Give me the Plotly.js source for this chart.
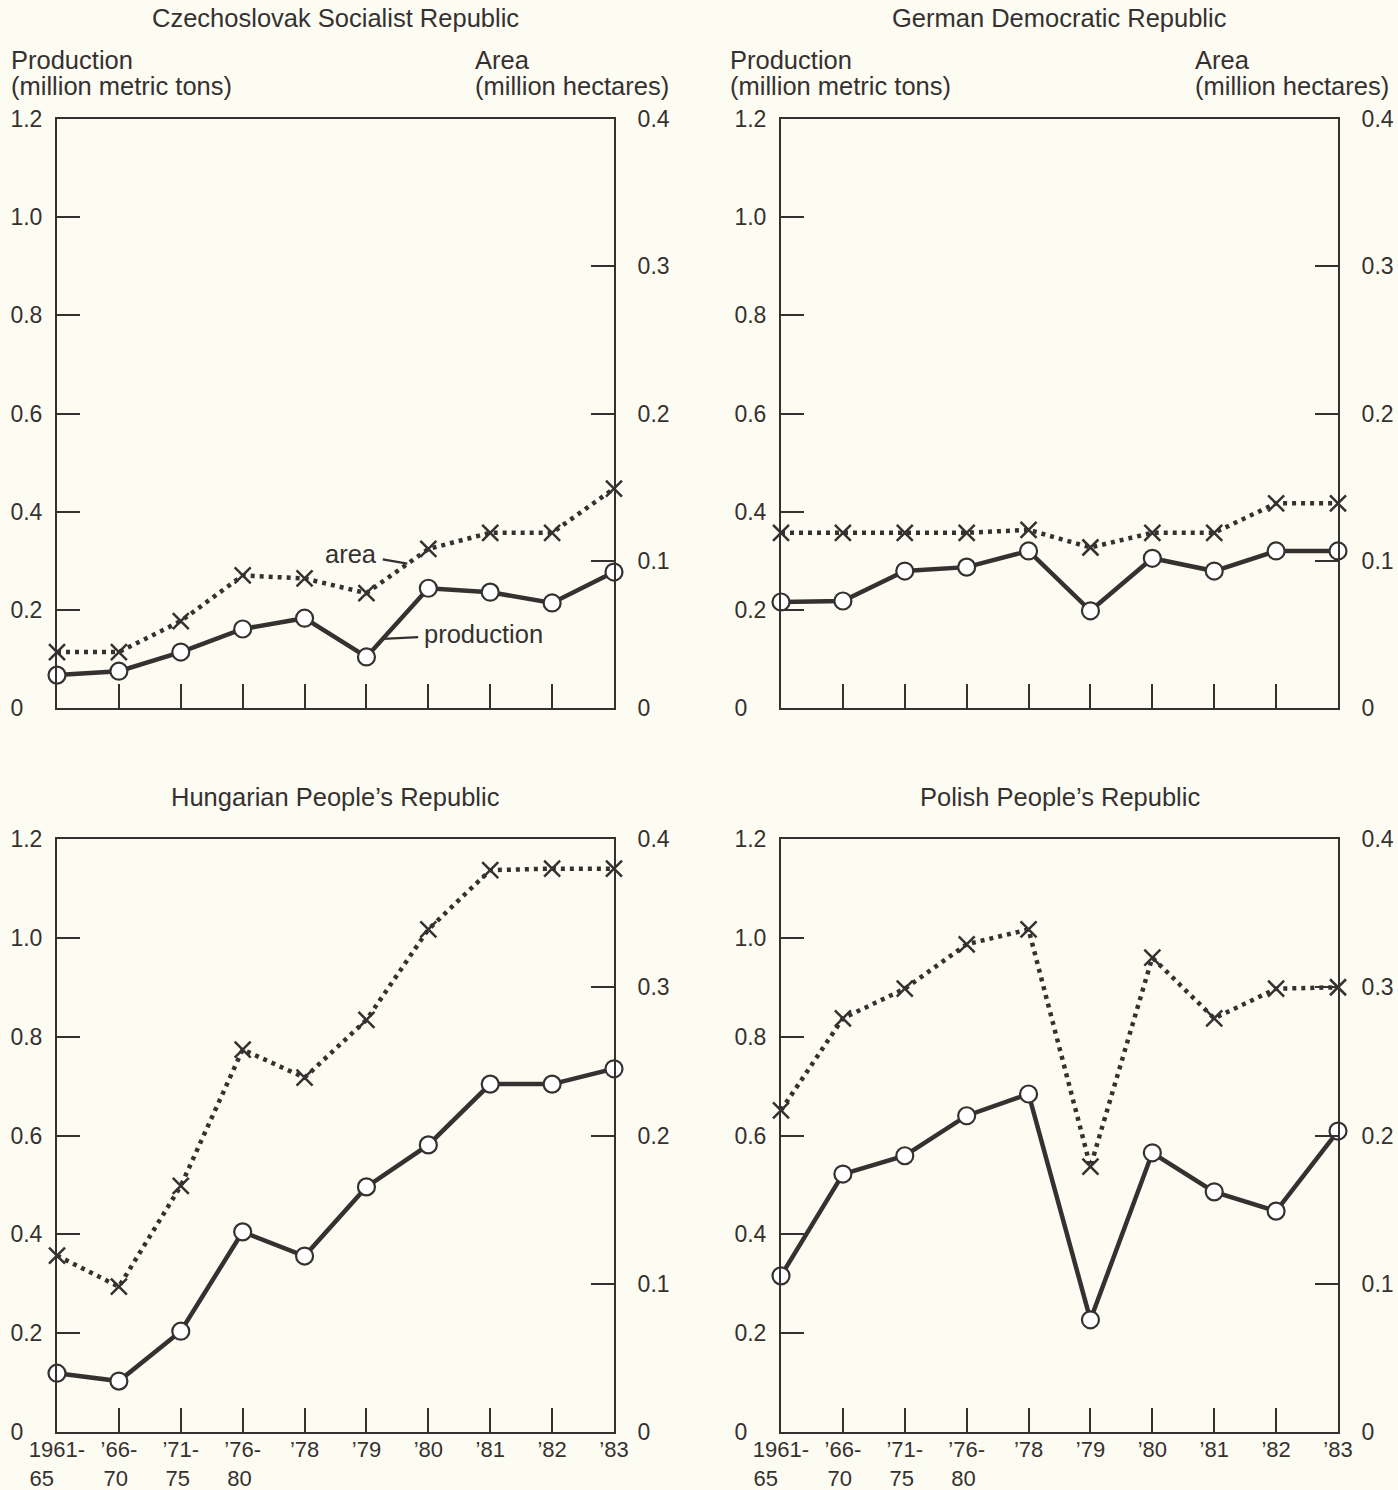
<!DOCTYPE html>
<html>
<head>
<meta charset="utf-8">
<script src="https://cdn.plot.ly/plotly-3.0.1.min.js"></script>
<style>
  html, body { margin: 0; padding: 0; background: #fcfcf2; }
  #chart { width: 1398px; height: 1490px; }
</style>
</head>
<body>
<div id="chart"></div>
<script>
// ---------------- data ----------------
const categories = ["1961-65", "1966-70", "1971-75", "1976-80", "1978", "1979", "1980", "1981", "1982", "1983"];
const NB = "\u00A0";
const xTickLabels = [
  "1961-<br>65" + NB.repeat(5),
  "\u201966-<br>70" + NB,
  "\u201971-<br>75" + NB,
  "\u201976-<br>80" + NB,
  "\u201978", "\u201979", "\u201980", "\u201981", "\u201982", "\u201983"
];
const productionTicks = [0, 0.2, 0.4, 0.6, 0.8, 1.0, 1.2];
const productionTickLabels = ["0" + NB.repeat(3), "0.2", "0.4", "0.6", "0.8", "1.0", "1.2"];
const areaTicks = [0, 0.1, 0.2, 0.3, 0.4];
const areaTickLabels = ["0", "0.1", "0.2", "0.3", "0.4"];

const panelTitles = ["Czechoslovak Socialist Republic", "German Democratic Republic",
                     "Hungarian People\u2019s Republic", "Polish People\u2019s Republic"];

// production, million metric tons (left axis)
const czProduction  = [0.067, 0.075, 0.114, 0.161, 0.183, 0.104, 0.244, 0.236, 0.214, 0.277];
const gdrProduction = [0.216, 0.218, 0.279, 0.287, 0.320, 0.198, 0.305, 0.279, 0.320, 0.320];
const huProduction  = [0.119, 0.103, 0.204, 0.405, 0.356, 0.496, 0.581, 0.704, 0.704, 0.735];
const plProduction  = [0.316, 0.522, 0.559, 0.640, 0.684, 0.227, 0.565, 0.486, 0.447, 0.609];
// area, million hectares (right axis)
const czArea  = [0.038, 0.038, 0.059, 0.090, 0.088, 0.078, 0.108, 0.119, 0.119, 0.149];
const gdrArea = [0.119, 0.119, 0.119, 0.119, 0.121, 0.109, 0.119, 0.119, 0.139, 0.139];
const huArea  = [0.119, 0.098, 0.166, 0.258, 0.239, 0.278, 0.339, 0.379, 0.380, 0.380];
const plArea  = [0.217, 0.279, 0.299, 0.329, 0.339, 0.179, 0.320, 0.279, 0.299, 0.300];

const productionSeries = [czProduction, gdrProduction, huProduction, plProduction];
const areaSeries = [czArea, gdrArea, huArea, plArea];

// ---------------- style ----------------
const INK = "#353131";
const BG = "#fcfcf2";
const FONT = "Liberation Sans, Arial, Helvetica, sans-serif";
const TXT = 25.5;
const W = 1398, H = 1490;

// panel plot boxes in pixels [left, right, top, bottom]
const boxes = [
  [57, 614, 119, 708],
  [781, 1338, 119, 708],
  [57, 614, 839, 1432],
  [781, 1338, 839, 1432]
];

const data = [];
const layout = {
  width: W, height: H,
  margin: { l: 0, r: 0, t: 0, b: 0 },
  paper_bgcolor: BG, plot_bgcolor: BG,
  showlegend: false,
  font: { family: FONT, size: 22, color: INK },
  annotations: []
};

boxes.forEach((b, i) => {
  const xid = i === 0 ? "x" : "x" + (i + 1);
  const yL = i === 0 ? "y" : "y" + (2 * i + 1);
  const yR = "y" + (2 * i + 2);
  const xKey = i === 0 ? "xaxis" : "xaxis" + (i + 1);
  const yLKey = i === 0 ? "yaxis" : "yaxis" + (2 * i + 1);
  const yRKey = "yaxis" + (2 * i + 2);
  const xDom = [b[0] / W, b[1] / W];
  const yDom = [1 - b[3] / H, 1 - b[2] / H];
  const bottomRow = i >= 2;

  layout[xKey] = {
    domain: xDom, anchor: yL, type: "category",
    range: [0, 9], fixedrange: true,
    showgrid: false, zeroline: false,
    showline: true, mirror: true, linecolor: INK, linewidth: 2,
    ticks: "inside", ticklen: 24, tickwidth: 2, tickcolor: INK,
    tickmode: "array", tickvals: categories, ticktext: xTickLabels,
    showticklabels: bottomRow, ticklabelstandoff: -3,
    tickfont: { family: FONT, size: 22, color: INK }
  };
  layout[yLKey] = {
    domain: yDom, anchor: xid, range: [0, 1.2],
    showgrid: false, zeroline: false,
    showline: true, linecolor: INK, linewidth: 2,
    ticks: "inside", ticklen: 23, tickwidth: 2, tickcolor: INK,
    tickmode: "array", tickvals: productionTicks, ticktext: productionTickLabels,
    ticklabelstandoff: 8,
    tickfont: { family: FONT, size: 23, color: INK }
  };
  layout[yRKey] = {
    overlaying: yL, side: "right", anchor: xid, range: [0, 0.4],
    showgrid: false, zeroline: false,
    showline: true, linecolor: INK, linewidth: 2,
    ticks: "inside", ticklen: 23, tickwidth: 2, tickcolor: INK,
    tickmode: "array", tickvals: areaTicks, ticktext: areaTickLabels,
    ticklabelstandoff: 17,
    tickfont: { family: FONT, size: 23, color: INK }
  };

  data.push({
    type: "scatter", mode: "lines+markers",
    x: categories, y: productionSeries[i], xaxis: xid, yaxis: yL,
    cliponaxis: false,
    line: { color: INK, width: 4.5 },
    marker: { symbol: "circle", size: 17, color: "#ffffff", line: { color: INK, width: 2.2 } },
    name: "production"
  });
  data.push({
    type: "scatter", mode: "lines+markers",
    x: categories, y: areaSeries[i], xaxis: xid, yaxis: yR,
    cliponaxis: false,
    line: { color: INK, width: 4.5, dash: "4px,5px" },
    marker: { symbol: "x-thin-open", size: 16, color: INK, line: { color: INK, width: 2.5 } },
    name: "area"
  });

  // panel title
  const titleY = bottomRow ? 797 : 18;
  layout.annotations.push({
    xref: "paper", yref: "paper", x: (b[0] + b[1]) / 2 / W, y: 1 - titleY / H,
    xanchor: "center", yanchor: "middle", showarrow: false,
    text: panelTitles[i], font: { family: FONT, size: TXT, color: INK }
  });
  if (!bottomRow) {
    const leftX = i === 0 ? 9 : 728;
    const rightX = i === 0 ? 473 : 1193;
    [["Production", 60], ["(million metric tons)", 86]].forEach(([t, y]) => {
      layout.annotations.push({
        xref: "paper", yref: "paper", x: leftX / W, y: 1 - y / H,
        xanchor: "left", yanchor: "middle", showarrow: false,
        text: t, font: { family: FONT, size: TXT, color: INK }
      });
    });
    [["Area", 60], ["(million hectares)", 86]].forEach(([t, y]) => {
      layout.annotations.push({
        xref: "paper", yref: "paper", x: rightX / W, y: 1 - y / H,
        xanchor: "left", yanchor: "middle", showarrow: false,
        text: t, font: { family: FONT, size: TXT, color: INK }
      });
    });
  }
});

// in-chart series labels (Czechoslovak panel)
layout.annotations.push({
  xref: "x", yref: "y2", x: 5.66, y: 0.098,
  text: "area", showarrow: true, arrowhead: 0, arrowwidth: 2.2, arrowcolor: INK,
  ax: -56, ay: -10, standoff: 0, startstandoff: 4,
  font: { family: FONT, size: TXT, color: INK }
});
layout.annotations.push({
  xref: "x", yref: "y", x: 5.27, y: 0.141,
  text: "production", showarrow: true, arrowhead: 0, arrowwidth: 2.2, arrowcolor: INK,
  ax: 100, ay: -5, standoff: 0, startstandoff: 4,
  font: { family: FONT, size: TXT, color: INK }
});

Plotly.newPlot("chart", data, layout, { staticPlot: true, displayModeBar: false });
</script>
</body>
</html>
